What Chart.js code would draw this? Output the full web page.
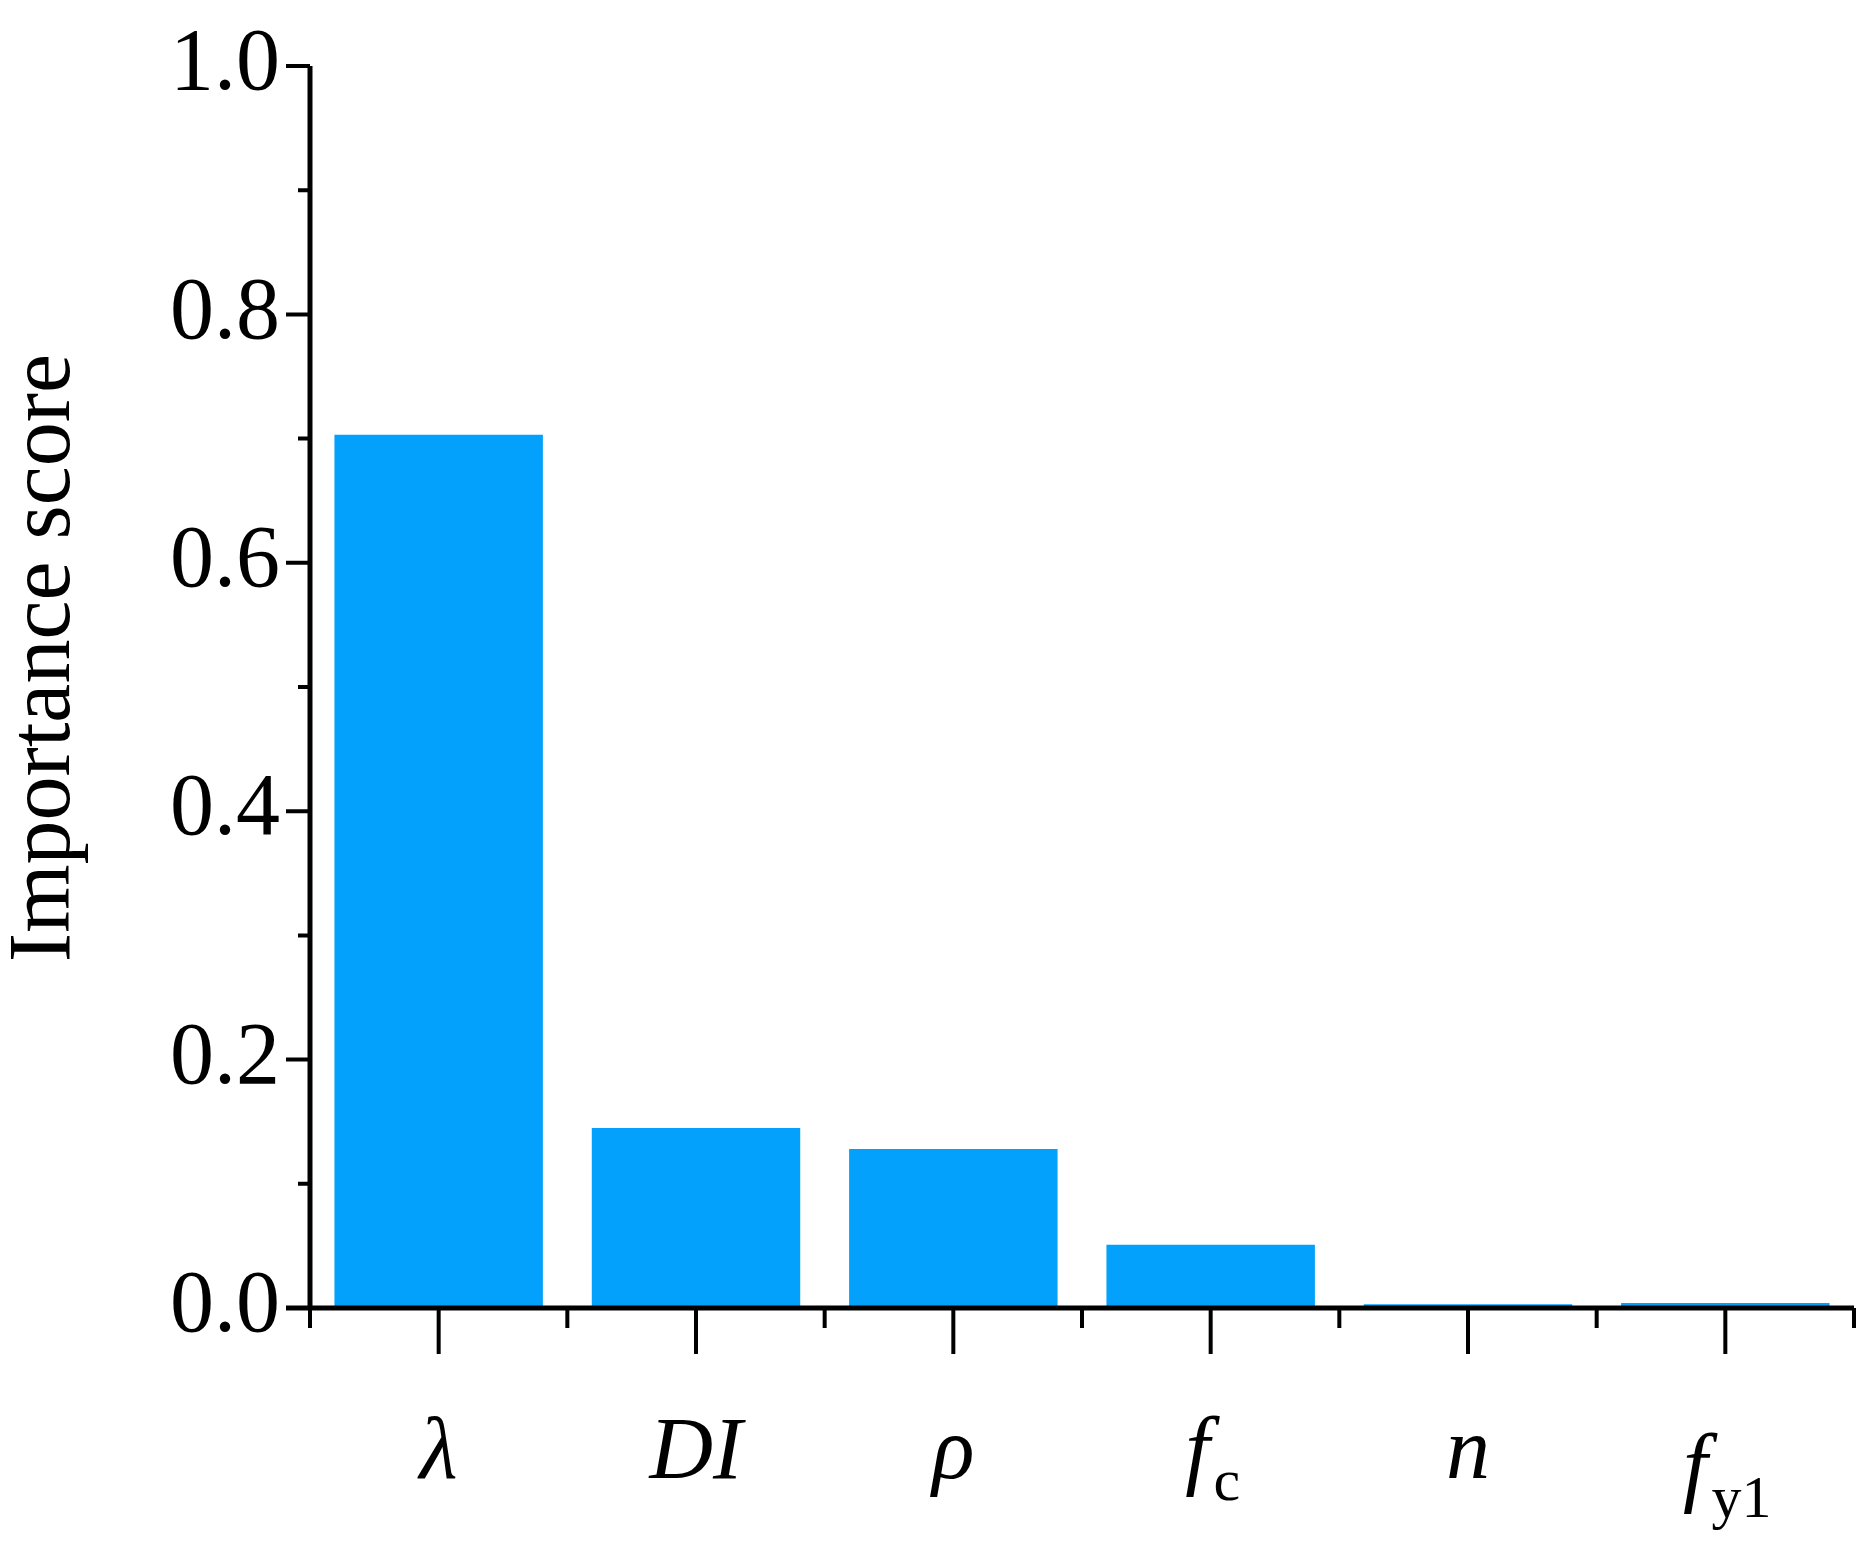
<!DOCTYPE html>
<html>
<head>
<meta charset="utf-8">
<script src="https://cdn.jsdelivr.net/npm/chart.js@4"></script>
<style>
  body { margin: 0; background: #fff; }
  #wrap { width: 1873px; height: 1546px; }
</style>
</head>
<body>
<div id="wrap"><canvas id="imp"></canvas></div>
<script>
// data
const labels = ["λ", "DI", "ρ", "fc", "n", "fy1"];
const labelMain = ["λ", "DI", "ρ", "f", "n", "f"];
const labelSub = ["", "", "", "c", "", "y1"];
const scores = [0.703, 0.145, 0.128, 0.051, 0.003, 0.004];
const yTicks = [0.0, 0.2, 0.4, 0.6, 0.8, 1.0];

const FONT = '"Liberation Serif", "Times New Roman", serif';

// axes, ticks and math-style labels drawn by hand
const axisPlugin = {
  id: 'axisPlugin',
  afterDraw(chart) {
    const c = chart.ctx;
    const x = chart.scales.x, y = chart.scales.y;
    const a = chart.chartArea;
    c.save();
    c.strokeStyle = '#000';
    c.fillStyle = '#000';
    // axis lines
    c.lineWidth = 5;
    c.beginPath();
    c.moveTo(a.left, a.top); c.lineTo(a.left, a.bottom + 2);
    c.moveTo(a.left - 24, a.bottom); c.lineTo(a.right, a.bottom);
    c.stroke();
    c.lineWidth = 4;
    // y ticks, major every 0.2, minor in between
    c.beginPath();
    for (let v = 0; v <= 10; v++) {
      const py = y.getPixelForValue(v / 10);
      const len = v % 2 === 0 ? 24 : 12;
      c.moveTo(a.left - len, py); c.lineTo(a.left, py);
    }
    // x ticks: long at centres, short at boundaries
    labels.forEach((l, i) => {
      const px = x.getPixelForValue(i);
      c.moveTo(px, a.bottom); c.lineTo(px, a.bottom + 46);
      const bx = i === 0 ? a.left : (x.getPixelForValue(i) + x.getPixelForValue(i - 1)) / 2;
      c.moveTo(bx, a.bottom); c.lineTo(bx, a.bottom + 20);
    });
    c.moveTo(a.right, a.bottom); c.lineTo(a.right, a.bottom + 20);
    c.stroke();
    // y tick labels
    c.font = '88px ' + FONT;
    c.textAlign = 'right';
    c.textBaseline = 'middle';
    yTicks.forEach(v => c.fillText(v.toFixed(1), a.left - 30, y.getPixelForValue(v)));
    // x labels
    c.textBaseline = 'alphabetic';
    labels.forEach((l, i) => {
      const px = x.getPixelForValue(i);
      c.font = 'italic 88px ' + FONT;
      const mw = c.measureText(labelMain[i]).width;
      c.font = '60px ' + FONT;
      const sw = labelSub[i] ? c.measureText(labelSub[i]).width : 0;
      const start = px - (mw + sw) / 2;
      const base = labelSub[i] === 'y1' ? 1495 : 1478;
      c.textAlign = 'left';
      c.font = 'italic 88px ' + FONT;
      c.fillText(labelMain[i], start, base);
      if (sw) {
        c.font = '60px ' + FONT;
        c.fillText(labelSub[i], start + mw + 4, base + 22);
      }
    });
    // y title
    c.font = '88px ' + FONT;
    c.textAlign = 'center';
    c.textBaseline = 'middle';
    c.translate(46, 658);
    c.rotate(-Math.PI / 2);
    c.fillText('Importance score', 0, 0);
    c.restore();
  }
};

new Chart(document.getElementById('imp'), {
  type: 'bar',
  data: {
    labels: labels,
    datasets: [{
      data: scores,
      backgroundColor: '#03A1FC',
      borderWidth: 0,
      categoryPercentage: 0.81,
      barPercentage: 1.0
    }]
  },
  options: {
    responsive: true,
    maintainAspectRatio: false,
    animation: false,
    layout: { padding: { top: 66, right: 19, left: 0, bottom: 0 } },
    plugins: { legend: { display: false }, tooltip: { enabled: false } },
    scales: {
      x: {
        grid: { display: false },
        border: { display: false },
        ticks: { display: false },
        afterFit(s) { s.height = 238; }
      },
      y: {
        min: 0, max: 1,
        grid: { display: false },
        border: { display: false },
        ticks: { display: false },
        afterFit(s) { s.width = 310; }
      }
    }
  },
  plugins: [axisPlugin]
});
</script>
</body>
</html>
